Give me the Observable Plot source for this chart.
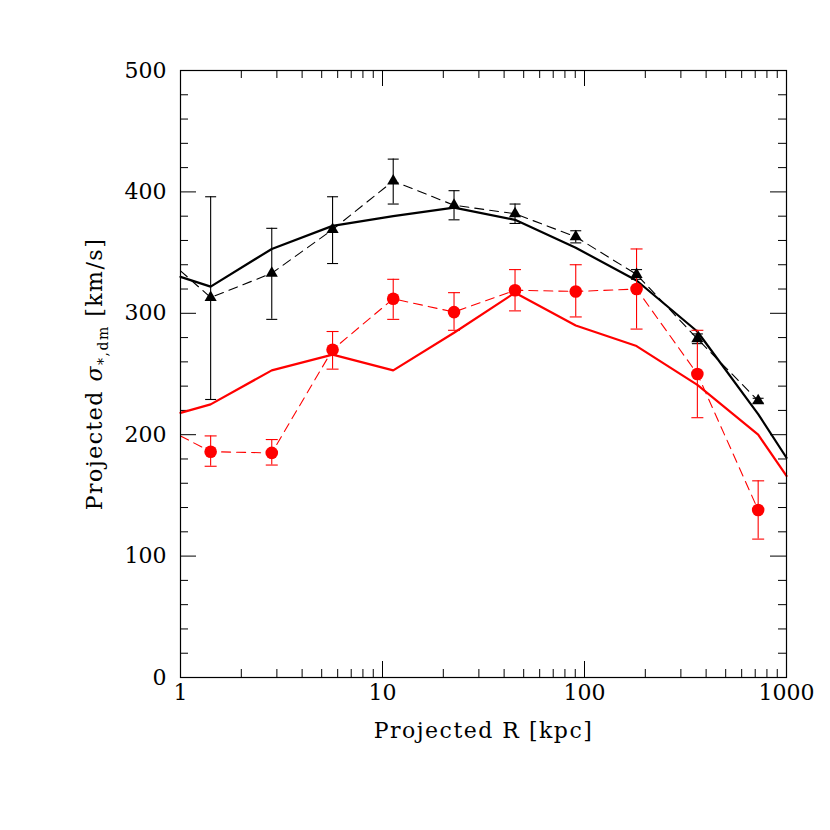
<!DOCTYPE html>
<html><head><meta charset="utf-8">
<script src="https://cdn.jsdelivr.net/npm/d3@7"></script>
<script src="https://cdn.jsdelivr.net/npm/@observablehq/plot@0.6"></script>
<style>body{margin:0;background:#fff}</style>
</head><body><div id="chart"></div>
<script>
// Projected radius of the binned points [kpc]
const radius = [1.41, 2.83, 5.66, 11.3, 22.6, 45.3, 90.5, 181, 362, 724];

// Black (stars) measurements with error bars
const blackVal = [313, 333, 369, 409, 389, 382, 363, 332, 279, 228];
const blackLo  = [229, 295, 341, 390, 377, 374, 358, 328, 275, 226];
const blackHi  = [396, 370, 396, 427, 401, 390, 368, 336, 283, 230];
const blackDashStart = 335; // dashed curve value at R = 1

// Red (dark matter) measurements with error bars
const redVal = [186, 185, 270, 312, 301, 319, 318, 320, 250, 138];
const redLo  = [174, 175, 254, 295, 286, 302, 297, 287, 214, 114];
const redHi  = [199, 196, 285, 328, 317, 336, 340, 353, 286, 162];
const redDashStart = 199;

// Solid model curves (values at R = 1, then at radius[], then at R = 1000)
const modelR = [1, 1.41, 2.83, 5.66, 11.3, 22.6, 45.3, 90.5, 181, 362, 724, 1000];
const blackModel = [330, 322, 353, 372, 380, 387, 377, 354, 327, 285, 217, 181];
const redModel   = [218, 225, 253, 266, 253, 284, 317, 290, 273, 241, 200, 166];

// Axis ticks
const xTicks = [1, 10, 100, 1000];
const xMinor = [2,3,4,5,6,7,8,9,20,30,40,50,60,70,80,90,200,300,400,500,600,700,800,900];
const yTicks = [0, 100, 200, 300, 400, 500];
const yMinor = [20,40,60,80,120,140,160,180,220,240,260,280,320,340,360,380,420,440,460,480];

const xLabel = "Projected R [kpc]";
const yLabel = "Projected σ*,dm [km/s]";

// Build tables
const black = radius.map((r, i) => ({r, v: blackVal[i], lo: blackLo[i], hi: blackHi[i]}));
const red = radius.map((r, i) => ({r, v: redVal[i], lo: redLo[i], hi: redHi[i]}));
const blackDash = [{r: 1, v: blackDashStart}, ...black];
const redDash = [{r: 1, v: redDashStart}, ...red];
const bModel = modelR.map((r, i) => ({r, v: blackModel[i]}));
const rModel = modelR.map((r, i) => ({r, v: redModel[i]}));

const W = 830, H = 830, mL = 180, mR = 44, mT = 70, mB = 153;
const fw = W - mL - mR, fh = H - mT - mB;
const majorLen = 16, minorLen = 8;

const capSymbol = {draw(ctx, size) { const r = Math.sqrt(size / Math.PI); ctx.moveTo(-r, 0); ctx.lineTo(r, 0); }};

const plot = Plot.plot({
  width: W, height: H,
  marginLeft: mL, marginRight: mR, marginTop: mT, marginBottom: mB,
  style: {fontFamily: "'DejaVu Serif', serif", fontSize: "22px", background: "#fff", color: "#000"},
  x: {type: "log", domain: [1, 1000]},
  y: {domain: [0, 500]},
  marks: [
    // inward ticks on all four sides
    Plot.ruleY(yTicks, {y: d => d, insetRight: fw - majorLen, stroke: "#000"}),
    Plot.ruleY(yTicks, {y: d => d, insetLeft: fw - majorLen, stroke: "#000"}),
    Plot.ruleY(yMinor, {y: d => d, insetRight: fw - minorLen, stroke: "#000"}),
    Plot.ruleY(yMinor, {y: d => d, insetLeft: fw - minorLen, stroke: "#000"}),
    Plot.ruleX(xTicks, {x: d => d, insetTop: fh - majorLen, stroke: "#000"}),
    Plot.ruleX(xTicks, {x: d => d, insetBottom: fh - majorLen, stroke: "#000"}),
    Plot.ruleX(xMinor, {x: d => d, insetTop: fh - minorLen, stroke: "#000"}),
    Plot.ruleX(xMinor, {x: d => d, insetBottom: fh - minorLen, stroke: "#000"}),
    Plot.axisY({ticks: yTicks, tickSize: 0, tickPadding: 14, label: null, fontSize: 22, tickFormat: d => String(d)}),
    Plot.axisX({ticks: xTicks, tickSize: 0, tickPadding: 7, label: null, fontSize: 22, tickFormat: d => String(d)}),
    // model curves
    Plot.line(bModel, {x: "r", y: "v", stroke: "#000", strokeWidth: 2.2}),
    Plot.line(rModel, {x: "r", y: "v", stroke: "#ff0000", strokeWidth: 2.2}),
    // dashed measurement curves
    Plot.line(blackDash, {x: "r", y: "v", stroke: "#000", strokeWidth: 1.1, strokeDasharray: "9,6"}),
    Plot.line(redDash, {x: "r", y: "v", stroke: "#ff0000", strokeWidth: 1.1, strokeDasharray: "9,6"}),
    // error bars
    Plot.ruleX(black, {x: "r", y1: "lo", y2: "hi", stroke: "#000", strokeWidth: 1.1}),
    Plot.dot(black, {x: "r", y: "lo", symbol: capSymbol, r: 5.5, stroke: "#000", strokeWidth: 1.1, fill: "none"}),
    Plot.dot(black, {x: "r", y: "hi", symbol: capSymbol, r: 5.5, stroke: "#000", strokeWidth: 1.1, fill: "none"}),
    Plot.ruleX(red, {x: "r", y1: "lo", y2: "hi", stroke: "#ff0000", strokeWidth: 1.1}),
    Plot.dot(red, {x: "r", y: "lo", symbol: capSymbol, r: 6, stroke: "#ff0000", strokeWidth: 1.1, fill: "none"}),
    Plot.dot(red, {x: "r", y: "hi", symbol: capSymbol, r: 6, stroke: "#ff0000", strokeWidth: 1.1, fill: "none"}),
    // markers
    Plot.dot(black, {x: "r", y: "v", symbol: "triangle", r: 4.5, fill: "#000", stroke: "none"}),
    Plot.dot(red, {x: "r", y: "v", symbol: "circle", r: 6.3, fill: "#ff0000", stroke: "none"}),
    Plot.frame({stroke: "#000", strokeWidth: 1.2}),
    // axis labels
    Plot.text([xLabel], {frameAnchor: "bottom", dy: 60, fontSize: 22, textAnchor: "middle", fill: "#000"}),
    Plot.text([yLabel], {frameAnchor: "left", dx: -86, rotate: -90, fontSize: 22, textAnchor: "middle", fill: "#000"})
  ]
});
document.getElementById("chart").appendChild(plot);

// letter spacing on axis titles, rich formatting of the y label
d3.select(plot).selectAll("text")
  .filter(function() { return this.textContent === xLabel; })
  .attr("letter-spacing", 1.5);
const yl = d3.select(plot).selectAll("text")
  .filter(function() { return this.textContent === yLabel; });
if (!yl.empty()) {
  yl.text(null).attr("letter-spacing", 1.5);
  yl.append("tspan").text("Projected ");
  yl.append("tspan").attr("font-style", "italic").text("σ");
  yl.append("tspan").attr("font-size", 14).attr("dy", 6).text("*,dm");
  yl.append("tspan").attr("dy", -6).text(" [km/s]");
}
</script>
</body></html>
